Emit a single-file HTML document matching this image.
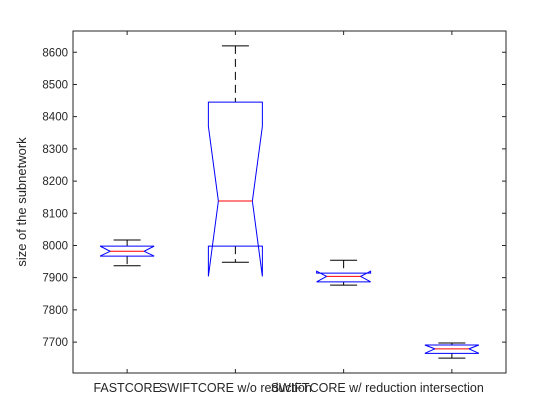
<!DOCTYPE html>
<html><head><meta charset="utf-8"><style>
html,body{margin:0;padding:0;background:#fff;}
svg{display:block;font-family:"Liberation Sans",sans-serif;}
</style></head><body>
<svg id="chart" width="560" height="420" xmlns="http://www.w3.org/2000/svg">
<rect x="0" y="0" width="560" height="420" fill="#fff"/>
<g id="plot"></g>
<text x="26" y="202" transform="rotate(-90 26 202)" text-anchor="middle" font-size="13" fill="#262626">size of the subnetwork</text>
</svg>
<script>
const categories = ["FASTCORE","SWIFTCORE w/o reduction","SWIFTCORE w/ reduction","intersection"];
const whiskerMax = [8017, 8620, 7954, 7697];
const q3Values = [7998, 8445, 7914, 7691];
const notchUpper = [7998, 8370, 7920, 7691];
const medians = [7982, 8138, 7904, 7679];
const notchLower = [7967, 7904, 7887, 7665];
const q1Values = [7967, 7998, 7887, 7665];
const whiskerMin = [7937, 7948, 7877, 7650];
const yTicks = [7700,7800,7900,8000,8100,8200,8300,8400,8500,8600];

const L=73,R=506,T=31,B=373, yMin=7604, yMax=8666;
const NS="http://www.w3.org/2000/svg";
const g=document.getElementById('plot');
const x=i=>L+(i+0.5)*(R-L)/categories.length;
const y=v=>B-(v-yMin)/(yMax-yMin)*(B-T);
function el(t,a){const e=document.createElementNS(NS,t);for(const k in a)e.setAttribute(k,a[k]);g.appendChild(e);return e;}

// axes box
const box=el('rect',{x:L,y:T,width:R-L,height:B-T,fill:'none',stroke:'#262626','stroke-width':1});


yTicks.forEach(t=>{
  const yy=y(t);
  const tl=el('path',{d:`M${L},${yy}h4M${R},${yy}h-4`,stroke:'#262626','stroke-width':1});
  
  
  const tx=el('text',{x:L-5,y:yy+4,'text-anchor':'end','font-size':'11.5',fill:'#262626'});
  tx.textContent=t;
  
  
});
const hw=27, nw=10, cw=13.5;
categories.forEach((c,i)=>{
  const cx=x(i);
  const tk=el('path',{d:`M${cx},${B}v-4M${cx},${T}v4`,stroke:'#262626','stroke-width':1});
  
  
  const lb=el('text',{x:cx,y:392,'text-anchor':'middle','font-size':'12.5',fill:'#262626'});
  lb.textContent=c;
  
  
  // whiskers
  const w=el('path',{d:`M${cx},${y(whiskerMax[i])}V${y(q3Values[i])}M${cx},${y(q1Values[i])}V${y(whiskerMin[i])}`,stroke:'#000','stroke-width':1,'stroke-dasharray':'8,5',fill:'none'});
  
  
  const cap=el('path',{d:`M${cx-cw},${y(whiskerMax[i])}h${2*cw}M${cx-cw},${y(whiskerMin[i])}h${2*cw}`,stroke:'#000','stroke-width':1});
  
  
  const l=cx-hw,r=cx+hw,il=cx-hw+nw,ir=cx+hw-nw;
  const d=`M${l},${y(q1Values[i])}L${l},${y(notchLower[i])}L${il},${y(medians[i])}L${l},${y(notchUpper[i])}L${l},${y(q3Values[i])}L${r},${y(q3Values[i])}L${r},${y(notchUpper[i])}L${ir},${y(medians[i])}L${r},${y(notchLower[i])}L${r},${y(q1Values[i])}Z`;
  const b=el('path',{d:d,fill:'none',stroke:'#0000ff','stroke-width':1});
  
  
  const m=el('line',{x1:il,x2:ir,y1:y(medians[i]),y2:y(medians[i]),stroke:'#ff0000','stroke-width':1});
  
  
});
</script>
</body></html>
